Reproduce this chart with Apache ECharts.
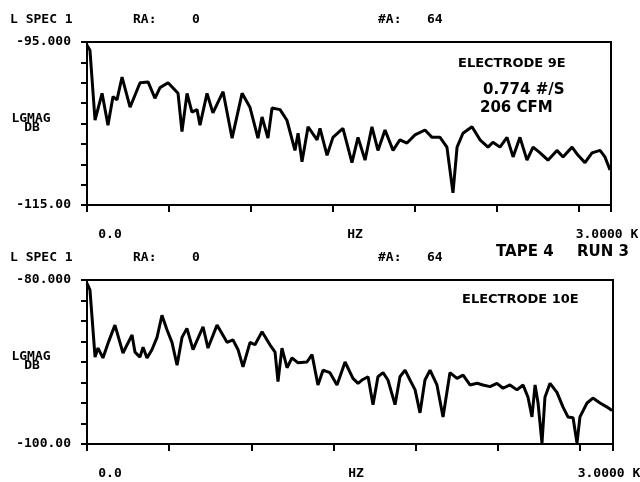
<!DOCTYPE html>
<html>
<head>
<meta charset="utf-8">
<script src="https://cdn.jsdelivr.net/npm/echarts@6/dist/echarts.min.js"></script>
<style>html,body{margin:0;padding:0;background:#fff;}#c{width:640px;height:482px;}</style>
</head>
<body>
<div id="c"></div>
<script>
// ---- Data ----
const freqTop = [0,18,49,92,128,159,183,214,263,324,373,415,446,495,556,580,611,641,672,690,733,769,831,886,947,995,1044,1069,1105,1130,1179,1221,1270,1289,1313,1350,1405,1423,1466,1502,1563,1618,1655,1698,1740,1777,1820,1869,1911,1954,2003,2064,2107,2156,2198,2235,2260,2296,2351,2400,2449,2479,2522,2565,2602,2644,2687,2724,2767,2815,2870,2907,2962,2999,3041,3084,3133,3163,3194];
const dbTop = [-95.4,-96.0,-104.6,-101.3,-105.2,-101.7,-102.1,-99.3,-103.0,-100.0,-99.9,-101.9,-100.6,-100.0,-101.3,-106.0,-101.3,-103.6,-103.3,-105.2,-101.3,-103.7,-101.1,-106.8,-101.3,-103.0,-106.8,-104.2,-106.8,-103.1,-103.3,-104.6,-108.3,-106.2,-109.7,-105.4,-107.0,-105.6,-108.9,-106.7,-105.6,-109.8,-106.7,-109.5,-105.4,-108.3,-105.8,-108.3,-107.0,-107.4,-106.4,-105.8,-106.7,-106.7,-107.9,-113.5,-107.9,-106.2,-105.4,-107.0,-107.9,-107.3,-107.9,-106.7,-109.1,-106.7,-109.5,-107.9,-108.6,-109.5,-108.3,-109.1,-107.9,-108.9,-109.8,-108.6,-108.3,-109.1,-110.7];

const freqBot = [0,18,49,67,97,128,170,219,274,292,322,341,365,395,426,456,487,517,548,578,608,645,706,736,791,852,888,919,949,992,1022,1065,1113,1144,1162,1186,1217,1247,1284,1338,1369,1405,1436,1478,1521,1570,1618,1649,1673,1710,1740,1770,1801,1831,1874,1904,1935,1965,1996,2026,2056,2087,2129,2166,2208,2251,2288,2330,2373,2409,2452,2494,2531,2573,2616,2653,2683,2707,2726,2744,2768,2786,2817,2859,2896,2926,2957,2981,2999,3042,3078,3121,3164,3194];
const dbBot = [-80.4,-81.2,-89.4,-88.3,-89.5,-87.7,-85.5,-88.9,-86.7,-88.8,-89.4,-88.2,-89.5,-88.5,-87.0,-84.3,-86.1,-87.6,-90.4,-87.0,-85.9,-88.5,-85.7,-88.3,-85.5,-87.6,-87.3,-88.5,-90.6,-87.6,-87.9,-86.3,-87.9,-88.8,-92.4,-88.3,-90.7,-89.5,-90.1,-90.0,-89.1,-92.8,-91.0,-91.3,-92.8,-90.0,-92.0,-92.6,-92.2,-91.8,-95.2,-91.8,-91.3,-92.2,-95.2,-91.8,-91.0,-92.2,-93.4,-96.2,-92.2,-91.0,-92.8,-96.7,-91.3,-92.0,-91.6,-92.8,-92.6,-92.8,-93.0,-92.6,-93.2,-92.8,-93.4,-92.8,-94.3,-96.7,-92.8,-95.0,-99.9,-94.3,-92.6,-93.7,-95.5,-96.7,-96.8,-99.9,-96.7,-95.0,-94.4,-95.0,-95.5,-95.9];

const xRange = [0, 3200];
const yRangeTop = [-115, -95];
const yRangeBot = [-100, -80];
const yLabelsTop = ['-115.00', '-95.000'];
const yLabelsBot = ['-100.00', '-80.000'];
const xLabelValues = [0, 1600, 3200];
const xLabelTexts = ['0.0', 'HZ', '3.0000 K'];
const headerTexts = ['L SPEC 1', 'RA:', '0', '#A:', '64'];
const yNameTexts = ['LGMAG', 'DB'];
const notesTop = ['ELECTRODE 9E', '0.774 #/S', '206 CFM'];
const notesBot = ['ELECTRODE 10E'];
const tapeRun = ['TAPE 4', 'RUN 3'];

// ---- Chart ----
const chart = echarts.init(document.getElementById('c'), null, {renderer: 'canvas'});
const MONO = 'DejaVu Sans Mono';
const HAND = 'DejaVu Sans';
const black = '#000';

function xAxisCfg(gi) {
  return {
    type: 'value', gridIndex: gi, min: xRange[0], max: xRange[1], interval: 500,
    axisLine: {show: true, lineStyle: {color: black, width: 2}},
    axisTick: {show: true, length: 7, lineStyle: {color: black, width: 2}},
    axisLabel: {show: false}, splitLine: {show: false}
  };
}
function yAxisCfg(gi, range, labels) {
  return {
    type: 'value', gridIndex: gi, min: range[0], max: range[1], interval: 2.5,
    axisLine: {show: true, lineStyle: {color: black, width: 2}},
    axisTick: {show: true, length: 6, lineStyle: {color: black, width: 2}},
    axisLabel: {
      show: true, margin: 16, color: black, fontFamily: MONO, fontWeight: 'bold', fontSize: 13,
      verticalAlign: 'middle', padding: [0, 0, 8, 0],
      formatter: function (v) {
        if (Math.abs(v - range[0]) < 1e-6) return labels[0];
        if (Math.abs(v - range[1]) < 1e-6) return labels[1];
        return '';
      }
    },
    splitLine: {show: false}
  };
}
function zip(a, b) { return a.map((x, i) => [x, b[i]]); }

chart.setOption({
  animation: false,
  backgroundColor: '#fff',
  grid: [
    {left: 87, top: 42, width: 524, height: 163, show: true, borderColor: black, borderWidth: 2, backgroundColor: 'transparent'},
    {left: 87, top: 280, width: 526, height: 164, show: true, borderColor: black, borderWidth: 2, backgroundColor: 'transparent'}
  ],
  xAxis: [xAxisCfg(0), xAxisCfg(1)],
  yAxis: [yAxisCfg(0, yRangeTop, yLabelsTop), yAxisCfg(1, yRangeBot, yLabelsBot)],
  series: [
    {type: 'line', xAxisIndex: 0, yAxisIndex: 0, data: zip(freqTop, dbTop), showSymbol: false, smooth: false,
     lineStyle: {color: black, width: 3}, itemStyle: {color: black}, clip: true},
    {type: 'line', xAxisIndex: 1, yAxisIndex: 1, data: zip(freqBot, dbBot), showSymbol: false, smooth: false,
     lineStyle: {color: black, width: 3}, itemStyle: {color: black}, clip: true}
  ]
});

// ---- Text placed relative to the axes via the library's scales ----
const g = [];
function mono(text, x, y, align) {
  g.push({type: 'text', x: x, y: y, style: {text: text, fill: black, font: 'bold 13px "' + MONO + '"', textAlign: align || 'left', textVerticalAlign: 'middle'}});
}
function hand(text, x, y, size, align) {
  g.push({type: 'text', x: x, y: y, style: {text: text, fill: black, font: 'bold ' + size + 'px "' + HAND + '"', textAlign: align || 'left', textVerticalAlign: 'middle'}});
}
[0, 1].forEach(function (gi) {
  const topY = chart.convertToPixel({yAxisIndex: gi}, gi === 0 ? yRangeTop[1] : yRangeBot[1]);
  const botY = chart.convertToPixel({yAxisIndex: gi}, gi === 0 ? yRangeTop[0] : yRangeBot[0]);
  const labY = botY + 30;
  const xs = xLabelValues.map(v => chart.convertToPixel({xAxisIndex: gi}, v));
  mono(xLabelTexts[0], xs[0] + 23, labY, 'center');
  mono(xLabelTexts[1], xs[1] + 6, labY, 'center');
  mono(xLabelTexts[2], xs[2] - 4, labY, 'center');
  const hy = topY - 22;
  mono(headerTexts[0], 10, hy);
  mono(headerTexts[1], 133, hy);
  mono(headerTexts[2], 192, hy);
  mono(headerTexts[3], 378, hy);
  mono(headerTexts[4], 427, hy);
  const midY = (topY + botY) / 2;
  mono(yNameTexts[0], 31, midY - 5, 'center');
  mono(yNameTexts[1], 32, midY + 4, 'center');
});
hand(notesTop[0], 458, 64, 13);
hand(notesTop[1], 483, 90, 15);
hand(notesTop[2], 480, 108, 15);
hand(notesBot[0], 462, 300, 13);
hand(tapeRun[0], 496, 252, 15);
hand(tapeRun[1], 577, 252, 15);
chart.setOption({graphic: g});
</script>
</body>
</html>
